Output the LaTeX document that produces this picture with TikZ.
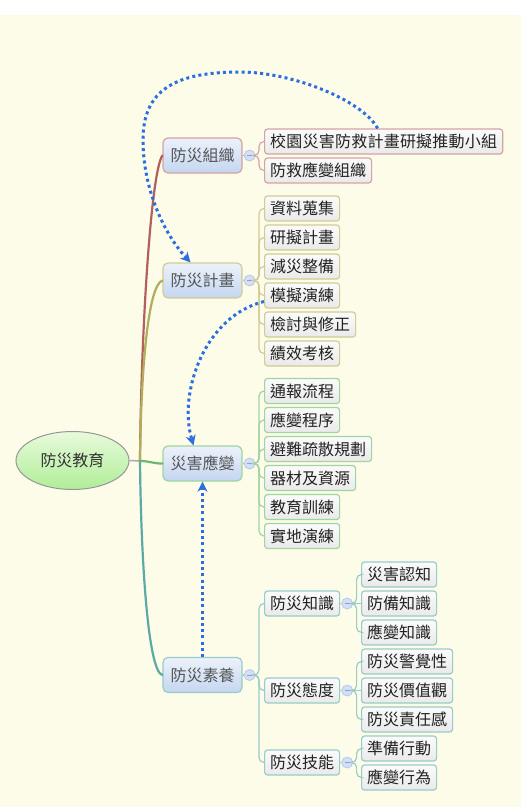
\documentclass[tikz,border=0pt]{standalone}
\usepackage{fontspec}
\setmainfont{Noto Sans CJK TC}
\usetikzlibrary{shapes.geometric,arrows.meta,calc}

\definecolor{bgcream}{RGB}{253,252,232}
\definecolor{arrowblue}{RGB}{43,110,226}
\definecolor{brOrg}{RGB}{178,96,94}
\definecolor{brPlan}{RGB}{178,172,94}
\definecolor{brResp}{RGB}{106,184,104}
\definecolor{brLit}{RGB}{92,170,168}
\definecolor{bdOrg}{RGB}{212,163,163}
\definecolor{bdPlan}{RGB}{208,204,150}
\definecolor{bdResp}{RGB}{160,212,160}
\definecolor{bdLit}{RGB}{152,204,202}
\definecolor{mainTop}{RGB}{236,242,251}
\definecolor{mainBot}{RGB}{196,214,240}
\definecolor{leafTop}{RGB}{251,251,251}
\definecolor{leafBot}{RGB}{234,234,234}
\definecolor{rootTop}{RGB}{232,250,220}
\definecolor{rootBot}{RGB}{176,238,152}
\definecolor{circFill}{RGB}{212,224,246}
\definecolor{circLine}{RGB}{180,200,236}
\definecolor{mainText}{RGB}{85,85,85}
\definecolor{leafText}{RGB}{34,34,34}

\begin{document}
\begin{tikzpicture}[x=1pt,y=-1pt,
  rootnode/.style={ellipse, draw={rgb,255:red,150;green,150;blue,150}, line width=1pt,
    top color=rootTop, bottom color=rootBot, minimum width=113pt, minimum height=58pt,
    inner sep=0pt, font=\fontsize{16}{18}\selectfont, text={rgb,255:red,51;green,51;blue,51}},
  mainbox/.style={rounded corners=5pt, top color=mainTop, bottom color=mainBot,
    line width=1.2pt, minimum height=35pt, minimum width=79pt, inner xsep=7.5pt, inner ysep=0pt,
    font=\fontsize{16}{18}\selectfont, text=mainText},
  leafbox/.style={rounded corners=3pt, top color=leafTop, bottom color=leafBot,
    line width=1.2pt, minimum height=25pt, inner xsep=5.5pt, inner ysep=0pt,
    anchor=west, font=\fontsize{16}{18}\selectfont, text=leafText},
  foldmark/.style={circle, minimum size=11pt, inner sep=0pt, fill=circFill, draw=circLine,
    line width=0.8pt,
    path picture={\draw[circLine!80!black, line width=0.9pt]
      ([xshift=-2.5pt]path picture bounding box.center) --
      ([xshift=2.5pt]path picture bounding box.center);}},
  dotarrow/.style={arrowblue, line width=3pt, dash pattern=on 3pt off 3.2pt,
    -{Stealth[length=10pt,width=10pt,inset=3pt]}},
  branchline/.style={line width=2.2pt, line cap=round},
  twig/.style={line width=1.2pt, rounded corners=5pt}
]
\useasboundingbox (0,0) rectangle (521,807);
\fill[white] (0,0) rectangle (521,15);
\fill[bgcream] (0,15) rectangle (521,807);

% root
\node[rootnode] (root) at (72.5,460.5) {防災教育};
\coordinate (hub) at (140,461);

% main nodes
\node[mainbox, draw=bdOrg]  (m1) at (202.5,155.5) {防災組織};
\node[mainbox, draw=bdPlan] (m2) at (202.5,280.5) {防災計畫};
\node[mainbox, draw=bdResp] (m3) at (202.5,463.5) {災害應變};
\node[mainbox, draw=bdLit]  (m4) at (202.5,675)   {防災素養};

% fold marks
\node[foldmark] (k1) at ([xshift=7pt]m1.east) {};
\node[foldmark] (k2) at ([xshift=7pt]m2.east) {};
\node[foldmark] (k3) at ([xshift=7pt]m3.east) {};
\node[foldmark] (k4) at ([xshift=7pt]m4.east) {};

% leaves: organisation
\node[leafbox, draw=bdOrg] (a1) at (264,141.5) {\addfontfeatures{LetterSpace=1.5}校園災害防救計畫研擬推動小組};
\node[leafbox, draw=bdOrg] (a2) at (264,170.5) {防救應變組織};
% plan
\node[leafbox, draw=bdPlan] (b1) at (264,208.5) {資料蒐集};
\node[leafbox, draw=bdPlan] (b2) at (264,237.5) {研擬計畫};
\node[leafbox, draw=bdPlan] (b3) at (264,266.5) {減災整備};
\node[leafbox, draw=bdPlan] (b4) at (264,295.5) {模擬演練};
\node[leafbox, draw=bdPlan] (b5) at (264,324.5) {檢討與修正};
\node[leafbox, draw=bdPlan] (b6) at (264,353.5) {績效考核};
% response
\node[leafbox, draw=bdResp] (c1) at (264,391) {通報流程};
\node[leafbox, draw=bdResp] (c2) at (264,420) {應變程序};
\node[leafbox, draw=bdResp] (c3) at (264,449) {避難疏散規劃};
\node[leafbox, draw=bdResp] (c4) at (264,478) {器材及資源};
\node[leafbox, draw=bdResp] (c5) at (264,507) {教育訓練};
\node[leafbox, draw=bdResp] (c6) at (264,536) {實地演練};
% literacy
\node[leafbox, draw=bdLit] (d1) at (264,603.5) {防災知識};
\node[leafbox, draw=bdLit] (d2) at (264,690.5) {防災態度};
\node[leafbox, draw=bdLit] (d3) at (264,762.5) {防災技能};
\node[foldmark] (j1) at ([xshift=7pt]d1.east) {};
\node[foldmark] (j2) at ([xshift=7pt]d2.east) {};
\node[foldmark] (j3) at ([xshift=7pt]d3.east) {};
\node[leafbox, draw=bdLit] (e1) at (361,574.5) {災害認知};
\node[leafbox, draw=bdLit] (e2) at (361,603.5) {防備知識};
\node[leafbox, draw=bdLit] (e3) at (361,632.5) {應變知識};
\node[leafbox, draw=bdLit] (f1) at (361,661.5) {防災警覺性};
\node[leafbox, draw=bdLit] (f2) at (361,690.5) {防災價值觀};
\node[leafbox, draw=bdLit] (f3) at (361,719.5) {防災責任感};
\node[leafbox, draw=bdLit] (g1) at (361,748.5) {準備行動};
\node[leafbox, draw=bdLit] (g2) at (361,777.5) {應變行為};

% branches from root
\draw[line width=1.5pt, color={rgb,255:red,170;green,170;blue,170}] (root.east) -- (hub);
\draw[branchline, brOrg]  (hub) .. controls (141,330) and (151,172) .. (m1.west);
\draw[branchline, brPlan] (hub) .. controls (141,370) and (148,285) .. (m2.west);
\draw[branchline, brLit]  (hub) .. controls (141,560) and (148,672) .. (m4.west);
\draw[branchline, brResp] (hub) .. controls (150,461) and (152,463.5) .. (m3.west);

% node to fold mark
\draw[line width=1.2pt, bdOrg]  (m1.east) -- (k1.west);
\draw[line width=1.2pt, bdPlan] (m2.east) -- (k2.west);
\draw[line width=1.2pt, bdResp] (m3.east) -- (k3.west);
\draw[line width=1.2pt, bdLit]  (m4.east) -- (k4.west);
\draw[line width=1.2pt, bdLit]  (d1.east) -- (j1.west);
\draw[line width=1.2pt, bdLit]  (d2.east) -- (j2.west);
\draw[line width=1.2pt, bdLit]  (d3.east) -- (j3.west);

% twigs
\foreach \k/\l/\c in {k1/a1/bdOrg,k1/a2/bdOrg,
  k2/b1/bdPlan,k2/b2/bdPlan,k2/b3/bdPlan,k2/b4/bdPlan,k2/b5/bdPlan,k2/b6/bdPlan,
  k3/c1/bdResp,k3/c2/bdResp,k3/c3/bdResp,k3/c4/bdResp,k3/c5/bdResp,k3/c6/bdResp,
  k4/d1/bdLit,k4/d2/bdLit,k4/d3/bdLit,
  j1/e1/bdLit,j1/e3/bdLit,j2/f1/bdLit,j2/f3/bdLit,j3/g1/bdLit,j3/g2/bdLit}{
  \draw[twig, \c] (\k.east) -- ++(3.5,0) |- (\l.west);
}
\draw[line width=1.2pt, bdLit] (j1.east) -- (e2.west);
\draw[line width=1.2pt, bdLit] (j2.east) -- (f2.west);

% dotted relation arrows
\draw[dotarrow] ([xshift=-6pt]a1.north) .. controls (362,100) and (292,72) .. (240,72)
  .. controls (175,72) and (143,90) .. (143,140)
  .. controls (143,190) and (165,235) .. ([xshift=-12pt]m2.north);
\draw[dotarrow] ([yshift=-6pt]b4.west) .. controls (205,316) and (178,392) .. ([xshift=-9pt]m3.north);
\draw[dotarrow] (m4.north) -- (m3.south);
\end{tikzpicture}
\end{document}
